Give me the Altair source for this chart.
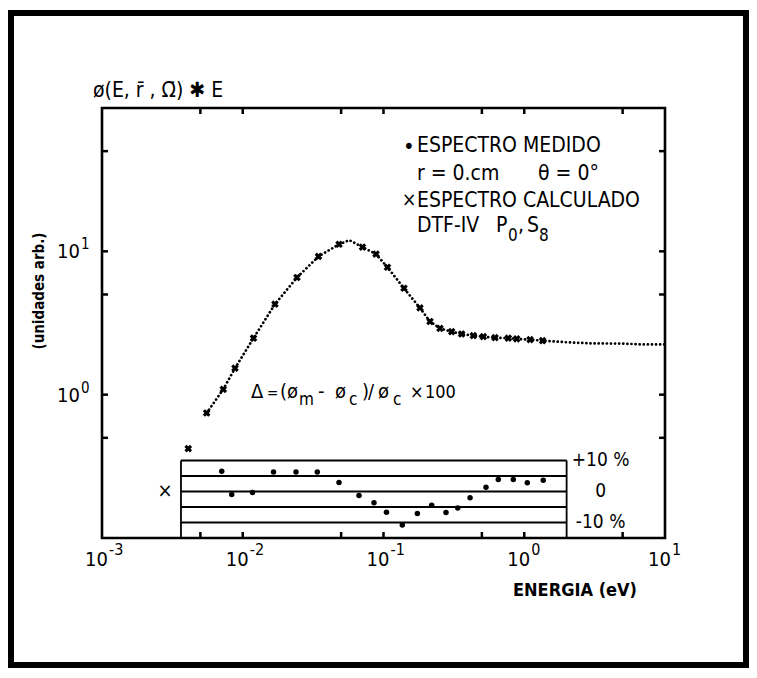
import altair as alt
import pandas as pd

# ---------------- data ----------------
# measured spectrum (dotted curve)
E_meas = [0.00554, 0.00727, 0.00881, 0.01192, 0.01694, 0.02428, 0.03453, 0.0483,
          0.0571, 0.0709, 0.0885, 0.1067, 0.1398, 0.1816, 0.214, 0.252, 0.305,
          0.359, 0.435, 0.512, 0.62, 0.77, 0.884, 1.10, 1.35, 2.0, 3.0, 5.0, 7.0, 10.0]
phi_meas = [0.745, 1.09, 1.53, 2.48, 4.28, 6.57, 9.21, 11.2,
            11.97, 10.7, 9.57, 7.74, 5.53, 4.03, 3.24, 2.90, 2.75,
            2.65, 2.58, 2.54, 2.50, 2.48, 2.45, 2.42, 2.38, 2.32, 2.28, 2.27, 2.24, 2.24]

# calculated spectrum (crosses)
E_calc = [0.0041, 0.00554, 0.00727, 0.00881, 0.01192, 0.01694, 0.02428, 0.03453,
          0.0483, 0.0709, 0.0885, 0.1067, 0.1398, 0.1816, 0.214, 0.252, 0.305,
          0.359, 0.435, 0.512, 0.62, 0.77, 0.884, 1.10, 1.35]
phi_calc = [0.42, 0.745, 1.09, 1.53, 2.48, 4.28, 6.57, 9.21,
            11.2, 10.7, 9.57, 7.74, 5.53, 4.03, 3.24, 2.90, 2.75,
            2.65, 2.58, 2.54, 2.50, 2.48, 2.45, 2.42, 2.38]

# deviation Delta (%) in the inset strip
E_res = [0.00709, 0.00835, 0.01173, 0.01654, 0.0239, 0.03386, 0.0483, 0.0670,
         0.0856, 0.1050, 0.136, 0.174, 0.220, 0.278, 0.337, 0.412, 0.535,
         0.654, 0.836, 1.051, 1.365]
res_pct = [6.5, -1.0, -0.3, 6.3, 6.3, 6.3, 2.9, -1.3,
           -3.6, -6.7, -10.8, -7.1, -4.4, -6.8, -5.3, -2.0, 1.4,
           3.9, 3.9, 2.8, 3.6]
E_res_cross = [0.0028]
res_cross_pct = [0.0]

strip_levels = [10, 5, 0, -5, -10]
strip_E = [0.00364, 2.0]
strip_bottom = -15
strip_labels = ["+10 %", "0", "-10 %"]
strip_label_pct = [10, 0, -10]

x_ticks = [0.005, 0.01, 0.05, 0.1, 0.5, 1, 5]
y_ticks = [0.5, 1, 5, 10, 50]
x_label_vals = [0.001, 0.01, 0.1, 1, 10]
x_label_exp = ["-3", "-2", "-1", "0", "1"]
y_label_vals = [1, 10]
y_label_exp = ["0", "1"]

# ---------------- chart ----------------
FONT = "DejaVu Sans Condensed, DejaVu Sans, sans-serif"
W, H = 563, 430
xs = alt.Scale(type="log", domain=[0.001, 10], nice=False)
ys = alt.Scale(type="log", domain=[0.1, 100], nice=False)
rs = alt.Scale(type="linear", domain=[-15, 123.7], nice=False, zero=False)

one = pd.DataFrame({"k": [0]})
meas = pd.DataFrame({"E": E_meas, "phi": phi_meas})
calc = pd.DataFrame({"E": E_calc, "phi": phi_calc})
res = pd.DataFrame({"E": E_res, "pct": res_pct})
resx = pd.DataFrame({"E": E_res_cross, "pct": res_cross_pct})
levels = pd.DataFrame({"pct": strip_levels, "E0": strip_E[0], "E1": strip_E[1]})
sides = pd.DataFrame({"E": strip_E, "lo": strip_bottom, "hi": strip_levels[0]})
slab = pd.DataFrame({"t": strip_labels, "pct": strip_label_pct, "E": strip_E[1]})
xt = pd.DataFrame({"v": x_ticks})
yt = pd.DataFrame({"v": y_ticks})
xl = pd.DataFrame({"v": x_label_vals, "e": x_label_exp})
yl = pd.DataFrame({"v": y_label_vals, "e": y_label_exp})

X = lambda f: alt.X(f, type="quantitative", scale=xs, axis=None)
Y = lambda f: alt.Y(f, type="quantitative", scale=ys, axis=None)
R = lambda f: alt.Y(f, type="quantitative", scale=rs, axis=None)

frame = alt.Chart(one).mark_rect(fillOpacity=0, stroke="black", strokeWidth=6).encode(
    x=alt.value(-91), x2=alt.value(644), y=alt.value(-95), y2=alt.value(557))

line = alt.Chart(meas).mark_line(color="black", strokeDash=[0.1, 4.0], strokeWidth=2.7,
                                 strokeCap="round").encode(x=X("E"), y=Y("phi"))
crosses = alt.Chart(calc).mark_point(shape="cross", angle=45, filled=True, size=60,
                                     color="black", opacity=1).encode(x=X("E"), y=Y("phi"))

lev = alt.Chart(levels).mark_rule(color="black", strokeWidth=1.8).encode(
    x=X("E0"), x2="E1", y=R("pct"))
sid = alt.Chart(sides).mark_rule(color="black", strokeWidth=1.8).encode(
    x=X("E"), y=R("lo"), y2="hi")
rdots = alt.Chart(res).mark_circle(color="black", size=30, opacity=1).encode(
    x=X("E"), y=R("pct"))
rx = alt.Chart(resx).mark_text(text="×", font=FONT, fontSize=20, color="black",
                               baseline="middle").encode(x=X("E"), y=R("pct"))
rlab = alt.Chart(slab).mark_text(font=FONT, fontSize=19, align="center", baseline="middle",
                                 dx=34, color="black").encode(x=X("E"), y=R("pct"), text="t:N")

tick_b = alt.Chart(xt).mark_rule(color="black", strokeWidth=2.5).encode(
    x=X("v"), y=alt.value(H - 6), y2=alt.value(H))
tick_t = alt.Chart(xt).mark_rule(color="black", strokeWidth=2.5).encode(
    x=X("v"), y=alt.value(0), y2=alt.value(6))
tick_l = alt.Chart(yt).mark_rule(color="black", strokeWidth=2.5).encode(
    y=Y("v"), x=alt.value(0), x2=alt.value(6))
tick_r = alt.Chart(yt).mark_rule(color="black", strokeWidth=2.5).encode(
    y=Y("v"), x=alt.value(W - 6), x2=alt.value(W))

xl10 = alt.Chart(xl).mark_text(text="10", font=FONT, fontSize=20, align="right",
                               dx=6, color="black").encode(x=X("v"), y=alt.value(H + 22))
xlex = alt.Chart(xl).mark_text(font=FONT, fontSize=16, align="left", dx=7,
                               color="black").encode(x=X("v"), y=alt.value(H + 12), text="e:N")
yl10 = alt.Chart(yl).mark_text(text="10", font=FONT, fontSize=20, align="right",
                               baseline="middle", dy=1, color="black").encode(
    y=Y("v"), x=alt.value(-22))
ylex = alt.Chart(yl).mark_text(font=FONT, fontSize=15, align="left", baseline="middle",
                               dy=-7, color="black").encode(
    y=Y("v"), x=alt.value(-21), text="e:N")


def txt(s, x, y, size=21, **kw):
    return alt.Chart(one).mark_text(text=s, font=FONT, fontSize=size, align="left",
                                    baseline="alphabetic", color="black", **kw).encode(
        x=alt.value(x), y=alt.value(y))


ytitle = alt.Chart(one).mark_text(
    text="(unidades arb.)", font=FONT, fontSize=15, fontWeight="bold", angle=270,
    align="center", baseline="middle", color="black").encode(
    x=alt.value(-63), y=alt.value(183))

notes = [
    txt("ø(E, r̄ , Ω̄) ✱ E", -9, -11, 21),
    ytitle,
    txt("ENERGIA (eV)", 411, 488, 18, fontWeight="bold"),
    txt("•", 301, 46, 22),
    txt("ESPECTRO MEDIDO", 315, 44, 21),
    txt("r = 0.cm", 315, 72, 21),
    txt("θ = 0°", 436, 72, 21),
    txt("×", 300, 98, 19),
    txt("ESPECTRO CALCULADO", 315, 99, 21),
    txt("DTF-IV", 315, 124, 21),
    txt("P", 394, 124, 21), txt("0", 406, 133, 17),
    txt(",", 416, 124, 21), txt("S", 425, 124, 21), txt("8", 437, 133, 17),
    txt("Δ", 149, 290, 20), txt("=", 165, 290, 15), txt("(ø", 178, 290, 20),
    txt("m", 197, 297, 17),
    txt("-", 216, 290, 20), txt("ø", 233, 290, 20), txt("c", 247, 297, 17),
    txt(")", 260, 290, 20), txt("/", 266, 290, 20), txt("ø", 276, 290, 20),
    txt("c", 291, 297, 17),
    txt("×", 308, 290, 18), txt("100", 323, 290, 18),
]

chart = alt.layer(
    frame, line, crosses, lev, sid, rdots, rx, rlab,
    tick_b, tick_t, tick_l, tick_r, xl10, xlex, yl10, ylex, *notes
).resolve_scale(y="independent").properties(
    width=W, height=H,
    padding={"left": 94, "top": 100, "right": 84, "bottom": 130},
    autosize=alt.AutoSizeParams(type="none"),
).configure_view(stroke="black", strokeWidth=2.6)

chart.save("out.html", embed_options={"renderer": "svg", "actions": False})
